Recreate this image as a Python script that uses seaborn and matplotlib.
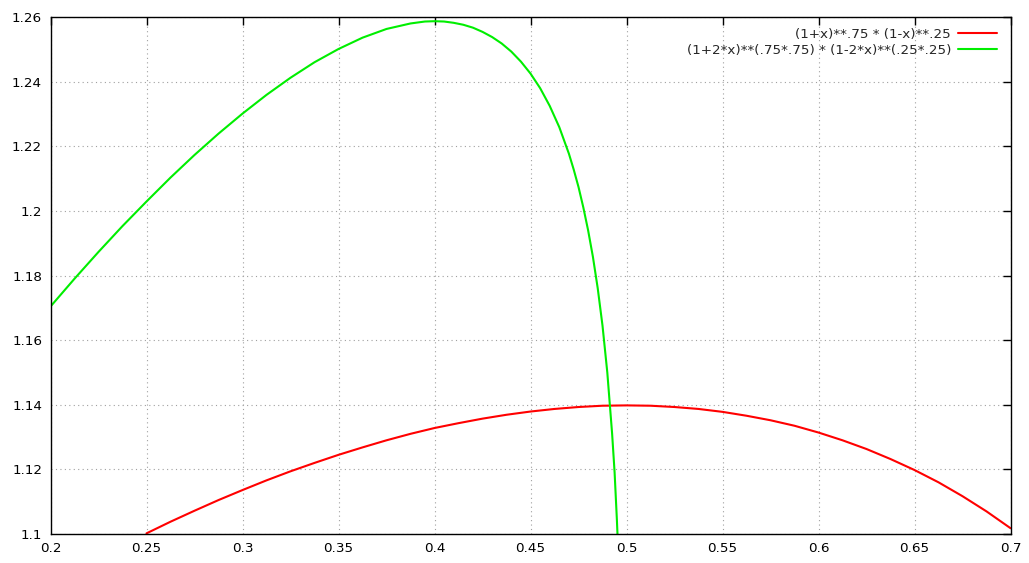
import numpy as np
import pandas as pd
import matplotlib
matplotlib.use("Agg")
import matplotlib.pyplot as plt
import seaborn as sns

# values
red_x = [0.25, 0.2625, 0.275, 0.2875, 0.3, 0.3125, 0.325, 0.3375, 0.35, 0.3625, 0.375, 0.3875,
         0.4, 0.4125, 0.425, 0.4375, 0.45, 0.4625, 0.475, 0.4875, 0.5, 0.5125, 0.525, 0.5375,
         0.55, 0.5625, 0.575, 0.5875, 0.6, 0.6125, 0.625, 0.6375, 0.65, 0.6625, 0.675, 0.6875, 0.7]
red_y = [1.1002, 1.1038, 1.1072, 1.1105, 1.1136, 1.1166, 1.1194, 1.1220, 1.1245, 1.1268, 1.1290, 1.1310,
         1.1328, 1.1343, 1.1357, 1.1369, 1.1379, 1.1387, 1.1393, 1.1397, 1.1398, 1.1397, 1.1393, 1.1387,
         1.1378, 1.1366, 1.1352, 1.1335, 1.1314, 1.1290, 1.1263, 1.1232, 1.1198, 1.1160, 1.1117, 1.1070, 1.1018]
green_x = [0.2, 0.2125, 0.225, 0.2375, 0.25, 0.2625, 0.275, 0.2875, 0.3, 0.3125, 0.325, 0.3375,
           0.35, 0.3625, 0.375, 0.3875, 0.395, 0.4, 0.405, 0.41, 0.415, 0.42, 0.425, 0.43,
           0.435, 0.44, 0.445, 0.45, 0.455, 0.46, 0.465, 0.47, 0.4725, 0.475, 0.4775, 0.48,
           0.4825, 0.485, 0.4875, 0.49, 0.4925, 0.4938, 0.495, 0.4953]
green_y = [1.1704, 1.1790, 1.1873, 1.1953, 1.2029, 1.2103, 1.2173, 1.2239, 1.2301, 1.2359, 1.2412, 1.2460,
           1.2501, 1.2536, 1.2563, 1.2580, 1.2586, 1.2587, 1.2586, 1.2582, 1.2576, 1.2567, 1.2554, 1.2538,
           1.2518, 1.2493, 1.2462, 1.2425, 1.2380, 1.2325, 1.2259, 1.2177, 1.2128, 1.2074, 1.2011, 1.1940,
           1.1858, 1.1761, 1.1645, 1.1500, 1.1311, 1.1191, 1.1043, 1.1000]
labels = ["(1+x)**.75 * (1-x)**.25", "(1+2*x)**(.75*.75) * (1-2*x)**(.25*.25)"]
x_ticks = [0.2, 0.25, 0.3, 0.35, 0.4, 0.45, 0.5, 0.55, 0.6, 0.65, 0.7]
x_tick_labels = ["0.2", "0.25", "0.3", "0.35", "0.4", "0.45", "0.5", "0.55", "0.6", "0.65", "0.7"]
y_ticks = [1.1, 1.12, 1.14, 1.16, 1.18, 1.2, 1.22, 1.24, 1.26]
y_tick_labels = ["1.1", "1.12", "1.14", "1.16", "1.18", "1.2", "1.22", "1.24", "1.26"]

df = pd.concat([
    pd.DataFrame({"x": red_x, "y": red_y, "f": labels[0]}),
    pd.DataFrame({"x": green_x, "y": green_y, "f": labels[1]}),
])

sns.set_style("white")
plt.rcParams["font.family"] = ["DejaVu Sans"]
plt.rcParams["font.size"] = 9.7

fig = plt.figure(figsize=(10.29, 5.63), dpi=100)
ax = fig.add_axes([50.5 / 1029, 1 - 534 / 563, (1010.5 - 50.5) / 1029, (534 - 17) / 563])

sns.lineplot(data=df, x="x", y="y", hue="f", palette=["#ff0000", "#00ee00"],
             sort=False, estimator=None, linewidth=1.5, ax=ax)

ax.set_xlim(0.2, 0.7)
ax.set_ylim(1.1, 1.26)
ax.set_xticks(x_ticks, x_tick_labels)
ax.set_yticks(y_ticks, y_tick_labels)
ax.set_xlabel("")
ax.set_ylabel("")
ax.grid(True, color="#a0a0a0", linestyle=(0, (1, 3)), linewidth=0.8)
ax.tick_params(direction="in", length=6, width=1, top=True, right=True,
               colors="black", labelsize=9.7, pad=6)
for s in ax.spines.values():
    s.set_color("black")
    s.set_linewidth(1)

ax.legend(loc="upper right", frameon=False, markerfirst=False, handlelength=2.9,
          handletextpad=0.5, fontsize=9.7, borderaxespad=0.4, labelspacing=0.25,
          bbox_to_anchor=(0.997, 1.0))

fig.savefig("out.png", dpi=100)
